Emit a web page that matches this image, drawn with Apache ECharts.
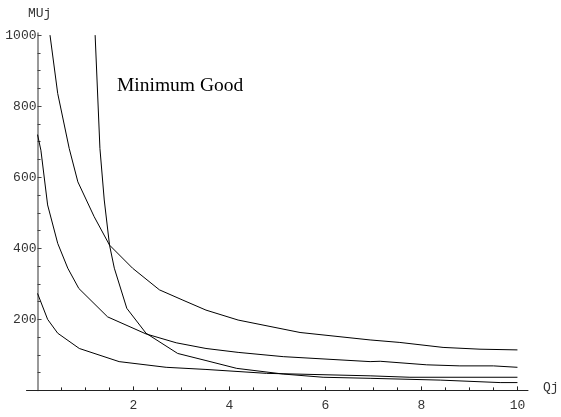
<!DOCTYPE html>
<html><head><meta charset="utf-8">
<script src="https://cdn.jsdelivr.net/npm/echarts@6/dist/echarts.min.js"></script>
<style>html,body{margin:0;padding:0;background:#fff}#c{width:561px;height:417px}</style>
</head><body><div id="c"></div>
<script>
// Curve data (Qj, MUj)
const qA = [1.20, 1.30, 1.39, 1.50, 1.60, 1.86, 2.26, 2.92, 3.51, 4.15, 5.12, 5.95, 6.93, 8.39, 9.64, 10.0];
const vA = [1000, 681, 536, 409, 344, 231, 161, 104, 84, 62, 46, 37, 34, 29, 22, 22];
const qB = [0.26, 0.42, 0.66, 0.84, 1.18, 1.50, 1.98, 2.54, 3.03, 3.51, 4.18, 5.47, 6.93, 7.55, 8.45, 9.22, 10.0];
const vB = [1000, 836, 681, 587, 489, 409, 344, 283, 254, 226, 198, 163, 142, 135, 121, 116, 114];
const qC = [0.0, 0.07, 0.21, 0.42, 0.63, 0.86, 1.46, 2.26, 2.89, 3.51, 4.18, 5.12, 6.93, 7.14, 8.11, 8.80, 9.50, 10.0];
const vC = [720, 676, 522, 414, 344, 287, 207, 159, 134, 118, 107, 95, 81, 82, 72, 69, 69, 65];
const qD = [0.0, 0.21, 0.42, 0.87, 1.70, 2.68, 3.51, 4.77, 6.93, 7.76, 10.0];
const vD = [273, 200, 161, 118, 81, 65, 59, 48, 41, 37, 37];

const xMajor = [2, 4, 6, 8, 10];
const xMinor = [0.5, 1, 1.5, 2.5, 3, 3.5, 4.5, 5, 5.5, 6.5, 7, 7.5, 8.5, 9, 9.5];
const yMajor = [200, 400, 600, 800, 1000];
const yMinor = [50, 100, 150, 250, 300, 350, 450, 500, 550, 650, 700, 750, 850, 900, 950];

const zip = (q, v) => q.map((x, i) => [x, v[i]]);
const mono = 'Liberation Mono';
const lineStyle = {color: '#000', width: 1};
const mk = (q, v) => ({type: 'line', xAxisIndex: 0, yAxisIndex: 0, data: zip(q, v), showSymbol: false, symbol: 'none', lineStyle, silent: true, clip: false, animation: false});
const plain = v => String(v);

const chart = echarts.init(document.getElementById('c'), null, {renderer: 'canvas'});
const xBase = {type: 'value', min: -0.23, max: 10.22, position: 'bottom', splitLine: {show: false}};
const yBase = {type: 'value', min: 0, max: 1006, splitLine: {show: false}};
chart.setOption({
  animation: false,
  backgroundColor: '#fff',
  grid: {left: 26.5, right: 33, top: 33, bottom: 26.6, containLabel: false, outerBoundsMode: 'none'},
  xAxis: [
    Object.assign({}, xBase, {
      axisLine: {show: true, onZero: true, lineStyle: {color: '#222', width: 1}},
      axisTick: {show: true, inside: true, length: 4, customValues: xMajor, lineStyle: {color: '#222'}},
      axisLabel: {show: true, customValues: xMajor, formatter: plain, margin: 9, fontFamily: mono, fontSize: 13, color: '#333'}
    }),
    Object.assign({}, xBase, {
      axisLine: {show: false},
      axisTick: {show: true, inside: true, length: 3, customValues: xMinor, lineStyle: {color: '#222'}},
      axisLabel: {show: false}
    })
  ],
  yAxis: [
    Object.assign({}, yBase, {
      axisLine: {show: true, onZero: true, onZeroAxisIndex: 0, lineStyle: {color: '#777', width: 1.5}},
      axisTick: {show: true, inside: true, length: 4, customValues: yMajor, lineStyle: {color: '#444'}},
      axisLabel: {show: true, customValues: yMajor, formatter: plain, margin: -10, fontFamily: mono, fontSize: 13, color: '#333'}
    }),
    Object.assign({}, yBase, {
      position: 'left',
      axisLine: {show: false, onZero: true, onZeroAxisIndex: 0},
      axisTick: {show: true, inside: true, length: 3, customValues: yMinor, lineStyle: {color: '#444'}},
      axisLabel: {show: false}
    })
  ],
  graphic: [
    {type: 'text', left: 28, top: 7, style: {text: 'MUj', font: '13px "Liberation Mono"', fill: '#333'}},
    {type: 'text', left: 543, top: 381, style: {text: 'Qj', font: '13px "Liberation Mono"', fill: '#333'}},
    {type: 'text', left: 117, top: 76, style: {text: 'Minimum Good', font: '19.5px "Liberation Serif"', fill: '#000'}}
  ],
  series: [mk(qA, vA), mk(qB, vB), mk(qC, vC), mk(qD, vD)]
});
</script>
</body></html>
